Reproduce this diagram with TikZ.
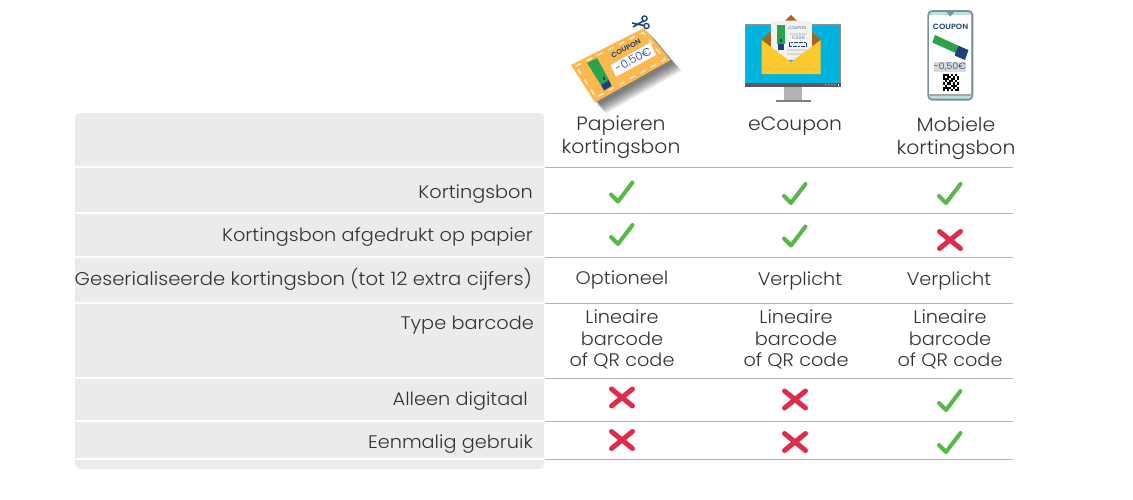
\documentclass[tikz,border=0pt]{standalone}
\usepackage{fontspec}
\setmainfont{Poppins}[UprightFont=* Light,FakeStretch=1.06]
\definecolor{panel}{HTML}{EBEBEB}
\definecolor{rule}{HTML}{B4B4B4}
\definecolor{txt}{HTML}{333333}
\definecolor{okc}{HTML}{57B947}
\definecolor{noc}{HTML}{DD2C4C}
\definecolor{navy}{HTML}{1D4179}
\definecolor{tube}{HTML}{2BA24C}
\definecolor{orng}{HTML}{FBB84F}
\definecolor{dashc}{HTML}{FDE8CC}
\definecolor{scr}{HTML}{00B3DC}
\definecolor{yel}{HTML}{FCC92F}
\definecolor{brn}{HTML}{A5651D}
\definecolor{teal}{HTML}{B9E2E2}
\definecolor{case}{HTML}{7E9097}
\newcommand{\rowfont}{\fontsize{18.2}{22}\selectfont}
\newcommand{\headfont}{\fontsize{19.2}{22}\selectfont}
\tikzset{
  x=1pt,y=-1pt,
  lab/.style={anchor=base east,inner sep=0,text=txt,font=\rowfont},
  cell/.style={anchor=base,inner sep=0,text=txt,font=\rowfont,align=center},
  headcell/.style={anchor=base,inner sep=0,text=txt,font=\headfont,align=center},
  panelrule/.style={draw=white,line width=1.4pt},
  gridrule/.style={draw=rule,line width=1pt},
  okmark/.style={draw=okc,line width=4pt,line cap=round,line join=round},
  nomark/.style={draw=noc,line width=5pt,line cap=round},
  tinytxt/.style={inner sep=0,text=navy},
}
\newcommand{\okat}[2]{\draw[okmark,shift={(#1,#2)}] (-11,2) -- (-4,9) -- (10.5,-10);}
\newcommand{\noat}[2]{\draw[nomark,shift={(#1,#2)}] (-10.5,-8.5) -- (10.5,8.5) (10.5,-8.5) -- (-10.5,8.5);}
\begin{document}
\begin{tikzpicture}
\useasboundingbox (0,0) rectangle (1133,499);
\fill[white] (0,0) rectangle (1133,499);
% panel
\fill[panel,rounded corners=5pt] (75,113) rectangle (544,469);
\foreach \yy in {167,213,257,303,378,421,459}{
  \draw[panelrule] (75,\yy) -- (544,\yy);
  \draw[gridrule] (545,\yy) -- (1013,\yy);
}
% row labels
\node[lab] (l1) at (533,198) {Kortingsbon};
\node[lab] (l2) at (533,241) {Kortingsbon afgedrukt op papier};
\node[lab,font=\fontsize{18.5}{22}\selectfont] (l3) at (532,285) {Geserialiseerde kortingsbon (tot 12 extra cijfers)};
\node[lab] (l4) at (534,329) {Type barcode};
\node[lab] (l5) at (528,405) {Alleen digitaal};
\node[lab] (l6) at (533,448) {Eenmalig gebruik};
% headers
\node[headcell] (h1a) at (621,130) {Papieren};
\node[headcell] (h1b) at (621,153) {kortingsbon};
\node[headcell] (h2) at (795,130) {eCoupon};
\node[headcell] (h3a) at (956,131) {Mobiele};
\node[headcell] (h3b) at (956,154) {kortingsbon};
% cells
\node[cell] (c1) at (622,284) {Optioneel};
\node[cell] (c2) at (800,285) {Verplicht};
\node[cell] (c3) at (949,285) {Verplicht};
\foreach \xx/\nn in {622/a,796/b,950/c}{
  \node[cell] (t\nn1) at (\xx,323) {Lineaire};
  \node[cell] (t\nn2) at (\xx,345) {barcode};
  \node[cell] (t\nn3) at (\xx,366) {of QR code};
}
% marks
\okat{622}{192.5}\okat{795}{194}\okat{950}{194}
\okat{622}{235}\okat{795}{236.5}\noat{950}{240}
\noat{622}{397.5}\noat{795}{399.5}\okat{950}{401}
\noat{622}{440}\noat{795}{442}\okat{950}{443}
% paper coupon
\foreach \oo in {11,10,...,3}{
  \fill[black,opacity=.075,shift={(\oo,\oo)}] (571,65) -- (644,28) -- (670.5,60) -- (595,102.5) -- cycle;
}
\fill[orng] (571,65) -- (644,28) -- (670.5,60) -- (595,102.5) -- cycle;
\draw[dashc,line width=1.5pt,dash pattern=on 6pt off 6pt] (576,66) -- (643,32.5) -- (665,59.5) -- (596,97.5) -- cycle;
\fill[tube] (587,63) -- (597,58) -- (609,80) -- (601,85) -- cycle;
\fill[navy] (601,85) -- (609,80) -- (611.5,86) -- (604,90.5) -- cycle;
\fill[navy] (602.5,77) rectangle (605,80);
\fill[white] (610.7,65) -- (650,42.7) -- (656,55) -- (616,76.7) -- cycle;
\node[tinytxt,rotate=28,font=\bfseries\fontsize{7}{7}\selectfont] (cp1) at (626,48.5) {COUPON};
\node[tinytxt,rotate=28,font=\fontsize{11}{11}\selectfont] (cp2) at (633.5,60) {-0,50€};
% scissors
\draw[navy,line width=1.6pt] (632,23) -- (646,26) (633,27) -- (645,20);
\draw[navy,line width=1.3pt,fill=white] (644.5,18.5) circle (2.6) (646.5,26) circle (2.6);
% monitor
\fill[black!45] (745,24) rectangle (841,87);
\fill[scr] (746,26) rectangle (840,82.7);
\fill[gray!70!black] (745,82.7) rectangle (841,87);
\foreach \xx in {826,829,832,835}{\fill[white!75!gray] (\xx,84.8) circle (.6);}
\fill[white] (837.5,84) rectangle (839,85.6);
\fill[black!30] (784,87) rectangle (802,99.5);
\fill[black!50] (775.7,99.5) rectangle (810.7,102);
\fill[brn] (761.7,40) -- (770.7,31.5) -- (811.7,31.5) -- (820.7,40) -- (820.7,50) -- (761.7,50) -- cycle;
\fill[brn] (785,20.7) -- (791,15) -- (797,20.7) -- cycle;
\fill[black!5] (770.7,20.7) rectangle (811.7,60);
\fill[tube] (776.7,24.5) rectangle (785.3,43.5);
\fill[navy] (777.7,43.5) rectangle (784,49.5);
\fill[navy] (780,39) rectangle (782,42);
\node[tinytxt,font=\fontsize{4}{4}\selectfont] (em1) at (797.3,28.3) {COUPON};
\fill[black!15] (789,32.5) rectangle (807,34.5);
\fill[white] (789,35.5) rectangle (806,41.5);
\node[tinytxt,font=\fontsize{4.5}{4}\selectfont] (em2) at (797.5,38.5) {-0,50€};
\draw[navy,line width=.7pt,dash pattern=on 2pt off .6pt] (789,42.5) rectangle (806.5,46.5);
\fill[black!15] (787,49) rectangle (806,51) (787,53) rectangle (806,55);
\fill[yel] (761.7,40) -- (791,62) -- (820.7,40) -- (820.7,74) -- (761.7,74) -- cycle;
\draw[yel!85!orange,line width=.6pt] (761.7,74) -- (784,58) (820.7,74) -- (798,58);
% phone
\fill[case,rounded corners=5pt] (927.3,10) rectangle (973.3,100.7);
\fill[teal,rounded corners=3pt] (929.3,12) rectangle (971.3,98.7);
\fill[white] (929.3,15) rectangle (971.3,93.5);
\fill[case] (946.5,12) -- (954,12) -- (950.3,16.5) -- cycle;
\fill[black!35,rounded corners=1pt] (929.3,94) rectangle (971.3,96);
\node[tinytxt,font=\bfseries\fontsize{7.6}{8}\selectfont] (ph1) at (950.6,26.7) {COUPON};
\fill[tube] (932.3,42.5) -- (935,35) -- (960,46.5) -- (956.7,53.5) -- cycle;
\fill[navy] (958.5,45.8) -- (968.5,50) -- (965,60) -- (954.5,55.5) -- cycle;
\fill[navy] (958,48) rectangle (960.5,50.5);
\fill[black!15] (934,61.7) rectangle (966,71.7);
\node[inner sep=0,text=navy,font=\fontsize{9}{9}\selectfont] (ph2) at (950,66.8) {-0,50€};
\foreach \xx/\yy in {0/0,1/0,2/0,4/0,6/0,7/1,0/1,2/1,3/1,5/1,
  0/2,1/2,2/2,4/2,5/2,7/2,1/3,3/3,4/3,6/3,0/4,2/4,3/4,5/4,7/4,
  1/5,4/5,5/5,6/5,0/6,1/6,2/6,3/6,5/6,7/6,0/7,2/7,4/7,6/7,7/7}{
  \fill[black] ({942.5+\xx*2.1},{74+\yy*2.1}) rectangle +(2.1,2.1);
}
\end{tikzpicture}
\end{document}
